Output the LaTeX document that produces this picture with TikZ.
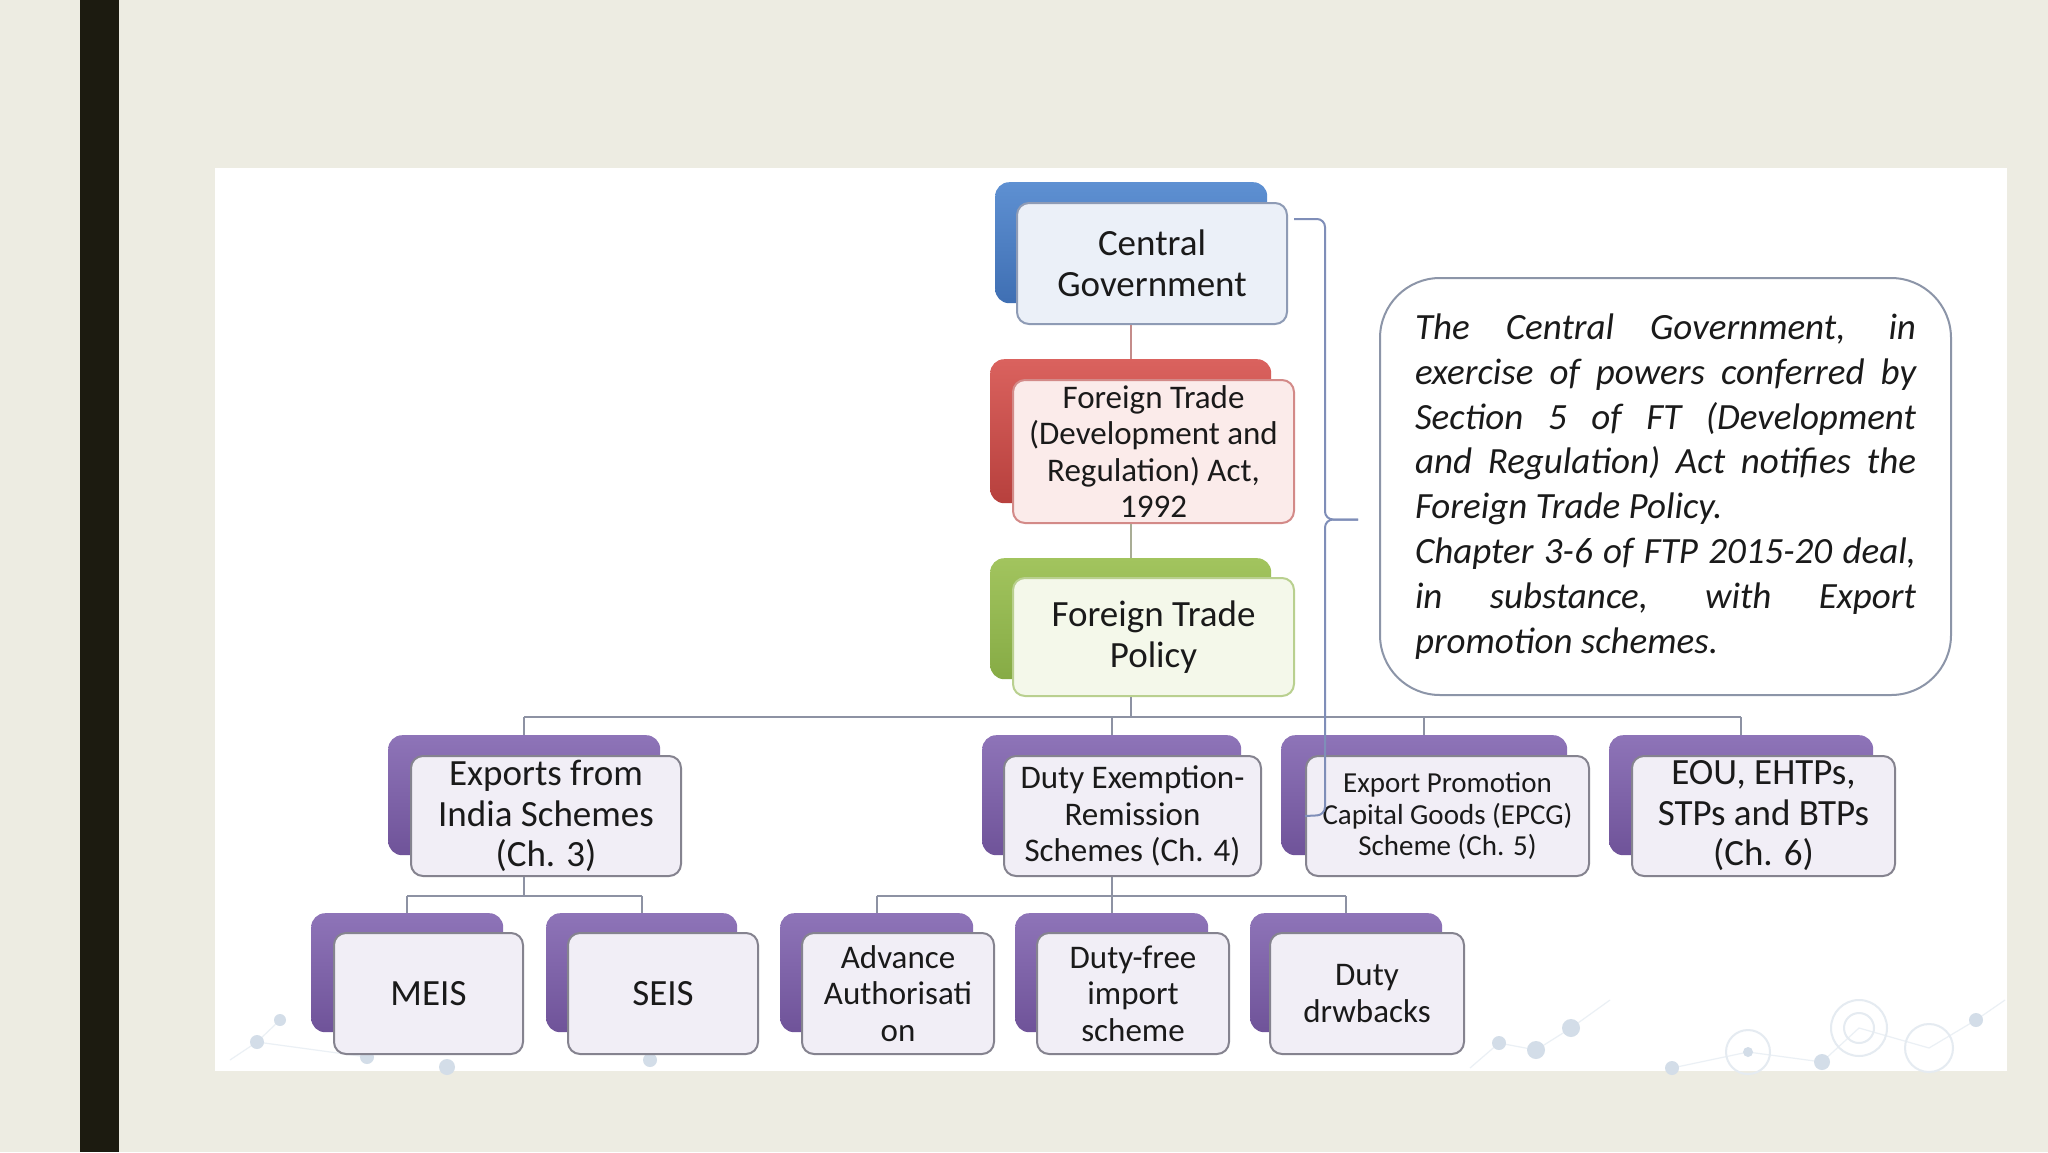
\documentclass[tikz,border=0pt]{standalone}
\usepackage{fontspec}
\setmainfont{Carlito}
\usetikzlibrary{calc}
\definecolor{bgc}{HTML}{EDECE2}
\definecolor{barc}{HTML}{1C1B10}
\definecolor{txt}{HTML}{1A1A1A}
\definecolor{blueT}{HTML}{5E90D2}
\definecolor{blueB}{HTML}{3F6FB3}
\definecolor{redT}{HTML}{DA625E}
\definecolor{redB}{HTML}{B7403D}
\definecolor{grnT}{HTML}{A2C45E}
\definecolor{grnB}{HTML}{86AB45}
\definecolor{purT}{HTML}{8E74B8}
\definecolor{purB}{HTML}{6F5399}
\definecolor{bluF}{HTML}{EBF0F8}
\definecolor{bluD}{HTML}{8E9BB5}
\definecolor{redF}{HTML}{FBEBEA}
\definecolor{redD}{HTML}{D38A88}
\definecolor{grnF}{HTML}{F4F8EA}
\definecolor{grnD}{HTML}{B9D08F}
\definecolor{purF}{HTML}{F1EEF6}
\definecolor{purD}{HTML}{85838F}
\definecolor{lnR}{HTML}{C48C8A}
\definecolor{lnG}{HTML}{A9AD95}
\definecolor{lnB}{HTML}{8D92A3}
\definecolor{brc}{HTML}{7F8EB8}
\definecolor{notec}{HTML}{8C95A8}
\definecolor{deco}{HTML}{D3DDE8}
\newcommand\fsL{\fontsize{37pt}{40.5pt}\selectfont}
\newcommand\fsM{\fontsize{33pt}{36.5pt}\selectfont}
\newcommand\fsS{\fontsize{29pt}{31.3pt}\selectfont}
\newcommand\fsN{\fontsize{37pt}{44.8pt}\selectfont}
\newcommand\jline[1]{\makebox[501pt][s]{#1}}
\newcommand\lline[1]{\makebox[501pt][l]{#1}}
\begin{document}
\begin{tikzpicture}[x=1pt,y=-1pt,
 bk/.style={anchor=north west, inner sep=0pt, rounded corners=14pt},
 fr/.style={anchor=north west, inner sep=0pt, align=center, rounded corners=12pt, line width=2pt, text=txt},
 bbk/.style={bk, top color=blueT, bottom color=blueB},
 rbk/.style={bk, top color=redT, bottom color=redB},
 gbk/.style={bk, top color=grnT, bottom color=grnB},
 pbk/.style={bk, top color=purT, bottom color=purB},
 bfr/.style={fr, fill=bluF, draw=bluD},
 rfr/.style={fr, fill=redF, draw=redD},
 gfr/.style={fr, fill=grnF, draw=grnD},
 pfr/.style={fr, fill=purF, draw=purD},
 conn/.style={line width=2pt},
 bracket/.style={brc, line width=2pt, rounded corners=8pt},
 dot/.style={fill=deco, draw=none},
 ring/.style={draw=deco!60, line width=2pt, fill=none},
 decoline/.style={draw=deco!45, line width=1.2pt},
]
\useasboundingbox (0,0) rectangle (2048,1152);
\fill[bgc] (0,0) rectangle (2048,1152);
\fill[barc] (80,0) rectangle (119,1152);
\fill[white] (215,168) rectangle (2007,1071);

% faint decoration at the bottom of the panel
\draw[decoline] (230,1060) -- (257,1042) -- (280,1020);
\draw[decoline] (257,1042) -- (367,1057);
\draw[decoline] (1470,1068) -- (1499,1043) -- (1536,1050) -- (1571,1028) -- (1610,1000);
\draw[decoline] (1672,1068) -- (1748,1052) -- (1822,1062) -- (1859,1028) -- (1929,1048) -- (1976,1020) -- (2005,1000);
\foreach \x/\y/\r in {257/1042/7, 280/1020/6, 367/1057/7, 447/1067/8, 650/1060/7, 1499/1043/7, 1536/1050/9, 1571/1028/9, 1672/1068/7, 1748/1052/5, 1822/1062/8, 1976/1020/7}
  \fill[dot] (\x,\y) circle[radius=\r];
\draw[ring] (1748,1052) circle[radius=22];
\draw[ring] (1859,1028) circle[radius=28];
\draw[ring] (1859,1028) circle[radius=15];
\draw[ring] (1929,1048) circle[radius=24];

% top chain
\node[bbk, minimum width=272pt, minimum height=121pt] (cgb) at (995,182) {};
\node[bfr, minimum width=270pt, minimum height=121pt, font=\fsL] (cgf) at (1016,202) {Central\\Government};
\node[rbk, minimum width=281pt, minimum height=144pt] (ftab) at (990,359) {};
\node[rfr, minimum width=281pt, minimum height=143pt, font=\fsM] (ftaf) at (1012,379) {Foreign Trade\\(Development and\\Regulation) Act,\\1992};
\node[gbk, minimum width=281pt, minimum height=121pt] (ftpb) at (990,558) {};
\node[gfr, minimum width=281pt, minimum height=118pt, font=\fsL] (ftpf) at (1012,577) {Foreign Trade\\Policy};

% level 2
\node[pbk, minimum width=272pt, minimum height=120pt] (exb) at (388,735) {};
\node[pfr, minimum width=270pt, minimum height=120pt, font=\fsL] (exf) at (410,755) {Exports from\\India Schemes\\(Ch. 3)};
\node[pbk, minimum width=259pt, minimum height=120pt] (deb) at (982,735) {};
\node[pfr, minimum width=257pt, minimum height=120pt, font=\fsM] (def) at (1003,755) {Duty Exemption-\\Remission\\Schemes (Ch. 4)};
\node[pbk, minimum width=286pt, minimum height=120pt] (epb) at (1281,735) {};
\node[pfr, minimum width=283pt, minimum height=120pt, font=\fsS] (epf) at (1305,755) {Export Promotion\\Capital Goods (EPCG)\\Scheme (Ch. 5)};
\node[pbk, minimum width=264pt, minimum height=120pt] (eob) at (1609,735) {};
\node[pfr, minimum width=263pt, minimum height=120pt, font=\fsL] (eof) at (1631,755) {EOU, EHTPs,\\STPs and BTPs\\(Ch. 6)};

% level 3
\node[pbk, minimum width=192pt, minimum height=119pt] (meb) at (311,913) {};
\node[pfr, minimum width=189pt, minimum height=121pt, font=\fsL] (mef) at (333,932) {MEIS};
\node[pbk, minimum width=191pt, minimum height=119pt] (seb) at (546,913) {};
\node[pfr, minimum width=190pt, minimum height=121pt, font=\fsL] (sef) at (567,932) {SEIS};
\node[pbk, minimum width=193pt, minimum height=119pt] (adb) at (780,913) {};
\node[pfr, minimum width=192pt, minimum height=121pt, font=\fsM] (adf) at (801,932) {Advance\\Authorisati\\on};
\node[pbk, minimum width=193pt, minimum height=119pt] (dfb) at (1015,913) {};
\node[pfr, minimum width=192pt, minimum height=121pt, font=\fsM] (dff) at (1036,932) {Duty-free\\import\\scheme};
\node[pbk, minimum width=192pt, minimum height=119pt] (drb) at (1250,913) {};
\node[pfr, minimum width=194pt, minimum height=121pt, font=\fsM] (drf) at (1269,932) {Duty\\drwbacks};

% connectors
\coordinate (bus) at (0,717);
\coordinate (busA) at (0,896);
\draw[conn, lnR] (cgb.south |- cgf.south) -- (cgb.south |- ftab.north);
\draw[conn, lnG] (ftab.south |- ftaf.south) -- (ftab.south |- ftpb.north);
\draw[conn, lnB] (ftpb.south |- ftpf.south) -- (ftpb.south |- bus);
\draw[conn, lnB] (exb.north |- bus) -- (eob.north |- bus);
\foreach \n in {exb, deb, epb, eob}
  \draw[conn, lnB] (\n.north |- bus) -- (\n.north);
\draw[conn, lnB] (exb.north |- exf.south) -- (exb.north |- busA);
\draw[conn, lnB] (meb.north |- busA) -- (seb.north |- busA);
\foreach \n in {meb, seb}
  \draw[conn, lnB] (\n.north |- busA) -- (\n.north);
\draw[conn, lnB] (deb.north |- def.south) -- (deb.north |- busA);
\draw[conn, lnB] (adb.north |- busA) -- (drb.north |- busA);
\foreach \n in {adb, dfb, drb}
  \draw[conn, lnB] (\n.north |- busA) -- (\n.north);

% note box
\node[draw=notec, line width=2pt, fill=white, rounded corners=60pt, minimum width=571pt, minimum height=417pt, anchor=north west, inner sep=0pt] (note) at (1379,277) {};
\node[align=left, inner sep=0pt, font=\fsN\itshape, text=txt] (notetext) at (note.center) {%
\jline{The Central Government, in}\\
\jline{exercise of powers conferred by}\\
\jline{Section 5 of FT (Development}\\
\jline{and Regulation) Act notifies the}\\
\lline{Foreign Trade Policy.}\\
\jline{Chapter 3-6 of FTP 2015-20 deal,}\\
\jline{in substance, with Export}\\
\lline{promotion schemes.}};

% bracket
\coordinate (brtop) at ($(cgf.north east)+(6,17)$);
\coordinate (brtip) at (1358,519.5);
\draw[bracket] (brtop) -- (1325,219) -- (1325,519.5) -- (brtip);
\draw[bracket] (brtip) -- (1325,519.5) -- (1325,815) -- (epf.west);
\end{tikzpicture}
\end{document}
